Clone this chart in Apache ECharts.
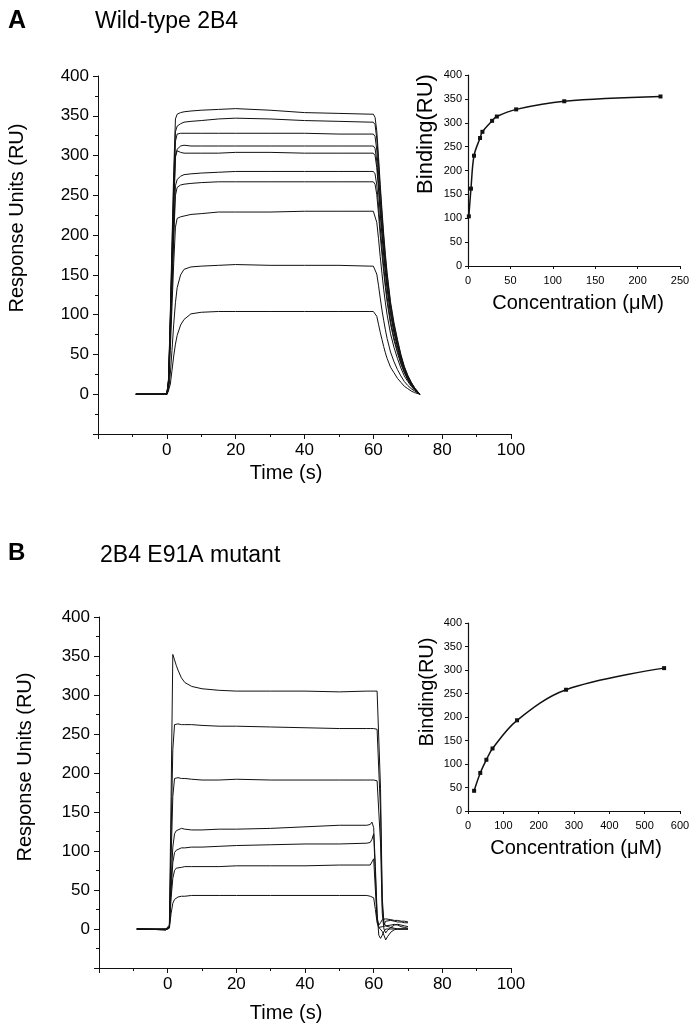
<!DOCTYPE html>
<html>
<head>
<meta charset="utf-8">
<script src="https://cdn.jsdelivr.net/npm/echarts@6/dist/echarts.min.js"></script>
<style>
html,body{margin:0;padding:0;background:#fff;}
#c{width:695px;height:1034px;}
</style>
</head>
<body>
<div id="c"></div>
<script>
// ---------- Panel A: Wild-type 2B4 sensorgrams ----------
const timeA = [-9, 0, 0.5, 1, 1.5, 2, 2.5, 3, 4, 5, 7, 10, 15, 20, 30, 40, 50, 59, 60, 60.5, 61, 61.5, 62, 62.5, 63, 63.5, 64, 65, 66, 67, 68, 69, 70, 71, 72, 73.5];
const wtTrace1  = [0, 0, 20, 100, 190, 280, 346, 352, 354, 355, 356, 357, 358, 359, 357, 354, 353, 352, 352, 348, 331, 299, 264, 232, 202, 176, 153, 116, 90, 69, 50, 35, 24, 15, 8, 0];
const wtTrace2  = [0, 0, 18, 95, 180, 265, 330, 337, 340, 342, 343, 344, 346, 347, 346, 344, 343, 342, 342, 339, 321, 291, 257, 226, 197, 171, 149, 113, 87, 67, 49, 34, 23, 15, 8, 0];
const wtTrace3  = [0, 0, 17, 90, 170, 250, 318, 327, 328, 328, 328, 328, 328, 328, 328, 328, 327, 327, 327, 324, 307, 278, 245, 216, 188, 164, 142, 108, 83, 64, 46, 33, 22, 14, 7, 0];
const wtTrace4  = [0, 0, 16, 85, 160, 240, 300, 308, 312, 313, 312, 312, 312, 312, 312, 312, 312, 312, 312, 309, 293, 265, 234, 206, 179, 156, 136, 103, 80, 61, 44, 31, 21, 13, 7, 0];
const wtTrace5  = [0, 0, 15, 82, 155, 232, 298, 306, 304, 303, 303, 303, 303, 304, 304, 303, 303, 303, 303, 300, 285, 258, 227, 200, 174, 152, 132, 100, 77, 59, 43, 30, 21, 13, 7, 0];
const wtTrace6  = [0, 0, 14, 75, 140, 205, 262, 270, 274, 276, 277, 278, 279, 280, 280, 280, 280, 280, 280, 277, 263, 238, 210, 185, 161, 140, 122, 92, 71, 55, 40, 28, 19, 12, 6, 0];
const wtTrace7  = [0, 0, 13, 70, 132, 195, 250, 260, 263, 264, 265, 266, 267, 267, 267, 267, 267, 267, 267, 264, 251, 227, 200, 176, 154, 134, 116, 88, 68, 52, 38, 27, 18, 11, 6, 0];
const wtTrace8  = [0, 0, 10, 55, 110, 165, 210, 221, 223, 224, 226, 227, 229, 229, 229, 230, 230, 230, 230, 228, 216, 196, 173, 152, 132, 115, 100, 76, 59, 45, 33, 23, 16, 10, 5, 0];
const wtTrace9  = [0, 0, 4, 25, 55, 88, 115, 134, 150, 157, 160, 161, 162, 163, 162, 162, 162, 161, 161, 159, 151, 137, 121, 106, 93, 81, 70, 53, 41, 31, 23, 16, 11, 7, 4, 0];
const wtTrace10 = [0, 0, 2, 12, 30, 48, 63, 74, 87, 94, 101, 103, 104, 104, 104, 104, 104, 104, 104, 103, 98, 88, 78, 69, 60, 52, 45, 34, 27, 20, 15, 10, 7, 4, 2, 0];

// Panel A inset: binding vs concentration
const concA = [1, 3.5, 7.1, 14.2, 17, 28.4, 34, 56.8, 113.5, 227];
const bindA = [104, 162, 231, 268, 281, 304, 313, 328, 345, 355];

// ---------- Panel B: 2B4 E91A mutant sensorgrams ----------
const timeB = [-9, -0.5, 0, 0.5, 1, 1.5, 2, 2.5, 3, 4, 5, 7, 10, 15, 20, 30, 40, 50, 58, 59, 59.5, 60, 60.5, 61, 61.5, 62, 62.5, 63, 63.5, 64, 65, 66, 67, 68, 69, 70];
const mutTrace1 = [0, 0, 0, 5, 170, 352, 345, 338, 332, 322, 316, 311, 308, 306, 305, 305, 305, 304, 305, 305, 305, 305, 305, 305, 304, 180, 40, 8, 4, 3, 5, 6, 5, 3, 2, 1];
const mutTrace2 = [0, 0, 0, 3, 120, 230, 262, 263, 263, 262, 262, 262, 261, 260, 260, 259, 258, 257, 257, 257, 257, 257, 257, 256, 255, 150, 30, 5, 10, 12, 11, 10, 9, 9, 8, 8];
const mutTrace3 = [0, 0, 0, 3, 90, 170, 193, 195, 194, 193, 193, 192, 191, 191, 192, 191, 191, 191, 191, 191, 191, 191, 190, 190, 188, 110, 20, 0, -5, -2, 2, 5, 6, 5, 4, 3];
const mutTrace4 = [0, -1, -3, 2, 60, 105, 122, 126, 128, 129, 128, 127, 127, 128, 128, 129, 131, 133, 133, 134, 137, 130, 80, 20, -8, -12, -8, -3, 0, 1, 0, 0, 0, 0, 0, 0];
const mutTrace5 = [0, -1, -3, 2, 50, 85, 98, 101, 103, 104, 104, 105, 105, 106, 107, 108, 109, 109, 110, 111, 115, 122, 70, 15, 2, 0, -3, -8, -14, -10, -4, -1, 0, 0, 0, 0];
const mutTrace6 = [0, -1, -3, 2, 40, 65, 75, 78, 79, 79, 80, 80, 80, 80, 81, 81, 81, 82, 82, 82, 86, 90, 50, 12, 5, 8, 12, 14, 13, 12, 12, 11, 11, 10, 10, 9];
const mutTrace7 = [0, -1, -3, 1, 20, 33, 38, 40, 41, 42, 42, 43, 43, 43, 43, 43, 43, 43, 43, 42, 42, 40, 25, 8, 2, 0, 3, 5, 4, 3, 2, 1, 0, 0, 0, 0];

// Panel B inset
const concB = [17.3, 34.7, 52, 69.4, 138.8, 277.5, 555];
const bindB = [43, 81, 109, 133, 193, 258, 304];

// Tick settings (labels)
const timeTicks = {min: -20, max: 100, interval: 20};
const respTicks = {min: -50, max: 400, interval: 50};

const FONT = "'Liberation Sans', Arial, Helvetica, sans-serif";
const INK = '#111';

const wtTraces = [wtTrace1, wtTrace2, wtTrace3, wtTrace4, wtTrace5, wtTrace6, wtTrace7, wtTrace8, wtTrace9, wtTrace10];
const mutTraces = [mutTrace1, mutTrace2, mutTrace3, mutTrace4, mutTrace5, mutTrace6, mutTrace7];

function pairs(xs, ys) { return xs.map((x, i) => [x, ys[i]]); }

function mainX(gi) {
  return {
    type: 'value', gridIndex: gi, min: timeTicks.min, max: timeTicks.max, interval: timeTicks.interval,
    axisLine: {onZero: false, lineStyle: {color: INK, width: 1}},
    axisTick: {show: true, length: 5, lineStyle: {color: INK}},
    minorTick: {show: true, splitNumber: 2, length: 3, lineStyle: {color: INK}},
    splitLine: {show: false},
    axisLabel: {color: '#000', fontSize: 17, fontFamily: FONT, margin: 8,
      formatter: v => v < 0 ? '' : String(v)}
  };
}
function mainY(gi) {
  return {
    type: 'value', gridIndex: gi, min: respTicks.min, max: respTicks.max, interval: respTicks.interval,
    axisLine: {show: true, onZero: false, lineStyle: {color: INK, width: 1}},
    axisTick: {show: true, length: 5, lineStyle: {color: INK}},
    minorTick: {show: true, splitNumber: 2, length: 3, lineStyle: {color: INK}},
    splitLine: {show: false},
    axisLabel: {color: '#000', fontSize: 17, fontFamily: FONT, margin: 9,
      formatter: v => v < 0 ? '' : String(v)}
  };
}
function insetX(gi, max, interval) {
  return {
    type: 'value', gridIndex: gi, min: 0, max: max, interval: interval,
    axisLine: {onZero: false, lineStyle: {color: INK, width: 1.2}},
    axisTick: {show: true, length: 3, lineStyle: {color: INK}},
    splitLine: {show: false},
    axisLabel: {color: '#000', fontSize: 11, fontFamily: FONT, margin: 9}
  };
}
function insetY(gi) {
  return {
    type: 'value', gridIndex: gi, min: 0, max: 400, interval: 50,
    axisLine: {show: true, onZero: false, lineStyle: {color: INK, width: 1.2}},
    axisTick: {show: true, length: 3, lineStyle: {color: INK}},
    splitLine: {show: false},
    axisLabel: {color: '#000', fontSize: 11, fontFamily: FONT, margin: 6}
  };
}

const series = [];
wtTraces.forEach(tr => series.push({
  type: 'line', xAxisIndex: 0, yAxisIndex: 0, data: pairs(timeA, tr),
  showSymbol: false, lineStyle: {color: INK, width: 1}, silent: true
}));
series.push({
  type: 'line', xAxisIndex: 1, yAxisIndex: 1, data: pairs(concA, bindA), smooth: 0.35,
  symbol: 'rect', symbolSize: 4, itemStyle: {color: INK}, lineStyle: {color: INK, width: 1.5}
});
mutTraces.forEach(tr => series.push({
  type: 'line', xAxisIndex: 2, yAxisIndex: 2, data: pairs(timeB, tr),
  showSymbol: false, lineStyle: {color: INK, width: 1}, silent: true
}));
series.push({
  type: 'line', xAxisIndex: 3, yAxisIndex: 3, data: pairs(concB, bindB), smooth: 0.35,
  symbol: 'rect', symbolSize: 4, itemStyle: {color: INK}, lineStyle: {color: INK, width: 1.5}
});

function txt(text, x, y, size, opts) {
  opts = opts || {};
  return {
    type: 'text', x: x, y: y, rotation: opts.rot || 0, silent: true,
    style: {text: text, fill: '#000', font: (opts.bold ? 'bold ' : '') + size + 'px ' + FONT,
      align: opts.align || 'center', verticalAlign: 'middle'}
  };
}

const option = {
  animation: false,
  backgroundColor: '#fff',
  grid: [
    {left: 98, top: 76, width: 413, height: 358},
    {left: 468, top: 75, width: 212, height: 191},
    {left: 99, top: 617, width: 412, height: 351},
    {left: 468, top: 623, width: 212, height: 188}
  ],
  xAxis: [mainX(0), insetX(1, 250, 50), mainX(2), insetX(3, 600, 100)],
  yAxis: [mainY(0), insetY(1), mainY(2), insetY(3)],
  series: series,
  graphic: [
    txt('A', 8, 21, 25, {bold: true, align: 'left'}),
    txt('Wild-type 2B4', 95, 22, 23, {align: 'left'}),
    txt('B', 8, 553, 24, {bold: true, align: 'left'}),
    txt('2B4 E91A mutant', 100, 556, 23, {align: 'left'}),
    txt('Response Units (RU)', 17, 218, 20, {rot: Math.PI / 2}),
    txt('Time (s)', 286, 473, 20),
    txt('Binding(RU)', 426, 134, 22, {rot: Math.PI / 2}),
    txt('Concentration (\u03bcM)', 578, 303, 20),
    txt('Response Units (RU)', 25, 767, 20, {rot: Math.PI / 2}),
    txt('Time (s)', 286, 1013, 20),
    txt('Binding(RU)', 427, 692, 20, {rot: Math.PI / 2}),
    txt('Concentration (\u03bcM)', 576, 848, 20)
  ]
};

const chart = echarts.init(document.getElementById('c'), null, {renderer: 'canvas'});
chart.setOption(option);
</script>
</body>
</html>
